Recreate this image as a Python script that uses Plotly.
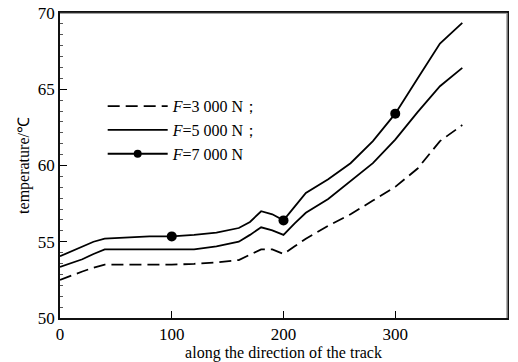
import plotly.graph_objects as go

x = [0, 10, 20, 30, 40, 60, 80, 100, 120, 140, 160, 170, 180, 190, 200, 210, 220, 240, 260, 280, 300, 320, 340, 360]
t_3000 = [52.5, 52.8, 53.05, 53.3, 53.5, 53.5, 53.5, 53.5, 53.55, 53.65, 53.8, 54.15, 54.5, 54.5, 54.2, 54.7, 55.2, 56.05, 56.8, 57.7, 58.6, 59.8, 61.6, 62.65]
t_5000 = [53.35, 53.6, 53.85, 54.2, 54.5, 54.5, 54.5, 54.5, 54.5, 54.7, 55.0, 55.45, 55.95, 55.75, 55.45, 56.2, 56.9, 57.8, 58.95, 60.15, 61.7, 63.5, 65.2, 66.4]
t_7000 = [54.05, 54.35, 54.65, 55.0, 55.2, 55.3, 55.35, 55.35, 55.45, 55.6, 55.9, 56.3, 57.0, 56.8, 56.4, 57.3, 58.2, 59.1, 60.15, 61.6, 63.4, 65.7, 68.0, 69.35]
mark_x = [100, 200, 300]

names = ["<i>F</i>=3 000 N；", "<i>F</i>=5 000 N；", "<i>F</i>=7 000 N"]
x_ticks = [0, 100, 200, 300, 400]
y_ticks = [50, 55, 60, 65, 70]

FONT = "Liberation Serif"

fig = go.Figure()
fig.add_trace(go.Scatter(x=x, y=t_3000, mode="lines", name=names[0],
                         line=dict(color="black", width=1.8, dash="12px,6px")))
fig.add_trace(go.Scatter(x=x, y=t_5000, mode="lines", name=names[1],
                         line=dict(color="black", width=1.8)))
sizes = [10 if v in mark_x else 0 for v in x]
fig.add_trace(go.Scatter(x=x, y=t_7000, mode="lines+markers", name=names[2], showlegend=False,
                         line=dict(color="black", width=1.8),
                         marker=dict(color="black", size=sizes, opacity=1,
                                     line=dict(width=0, color="black"))))
# legend entry for the marked series
fig.add_trace(go.Scatter(x=[None], y=[None], mode="lines+markers", name=names[2],
                         line=dict(color="black", width=1.8),
                         marker=dict(color="black", size=8, line=dict(width=0))))

fig.update_layout(
    width=518, height=362,
    margin=dict(l=60, r=11, t=13, b=44),
    paper_bgcolor="white", plot_bgcolor="white",
    font=dict(family=FONT, size=16, color="black"),
    showlegend=True,
    legend=dict(x=0.0955, y=0.75, xanchor="left", yanchor="top",
                bgcolor="rgba(0,0,0,0)", font=dict(family=FONT, size=16),
                itemwidth=60, tracegroupgap=0, traceorder="normal"),
    xaxis=dict(range=[0, 400], tickvals=x_ticks, ticks="inside", ticklen=7,
               tickcolor="black", showgrid=False, zeroline=False, automargin=False,
               showline=True, linecolor="#111", linewidth=1.5, mirror=True,
               tickfont=dict(family=FONT, size=17),
               title=dict(text="along the direction of the track", standoff=0,
                          font=dict(family=FONT, size=16))),
    yaxis=dict(range=[50, 70], tickvals=y_ticks, ticks="inside", ticklen=7,
               tickcolor="black", showgrid=False, zeroline=False, automargin=False,
               showline=True, linecolor="#111", linewidth=1.5, mirror=True,
               tickfont=dict(family=FONT, size=17),
               minor=dict(tick0=50, dtick=5/7, ticks="inside", ticklen=3,
                          tickcolor="#555", showgrid=False),
               title=dict(text="temperature/℃", standoff=4,
                          font=dict(family=FONT, size=16))),
    shapes=[
        dict(type="line", xref="paper", yref="paper", x0=0, x1=1, y0=1, y1=1,
             line=dict(color="#444", width=1)),
        dict(type="line", xref="paper", yref="paper", x0=1, x1=1, y0=0, y1=1,
             line=dict(color="#999", width=1.5)),
    ],
)
fig.write_html("out.html", config={"displayModeBar": False},
               post_script="document.body.style.margin='0';document.body.style.overflow='hidden';")
